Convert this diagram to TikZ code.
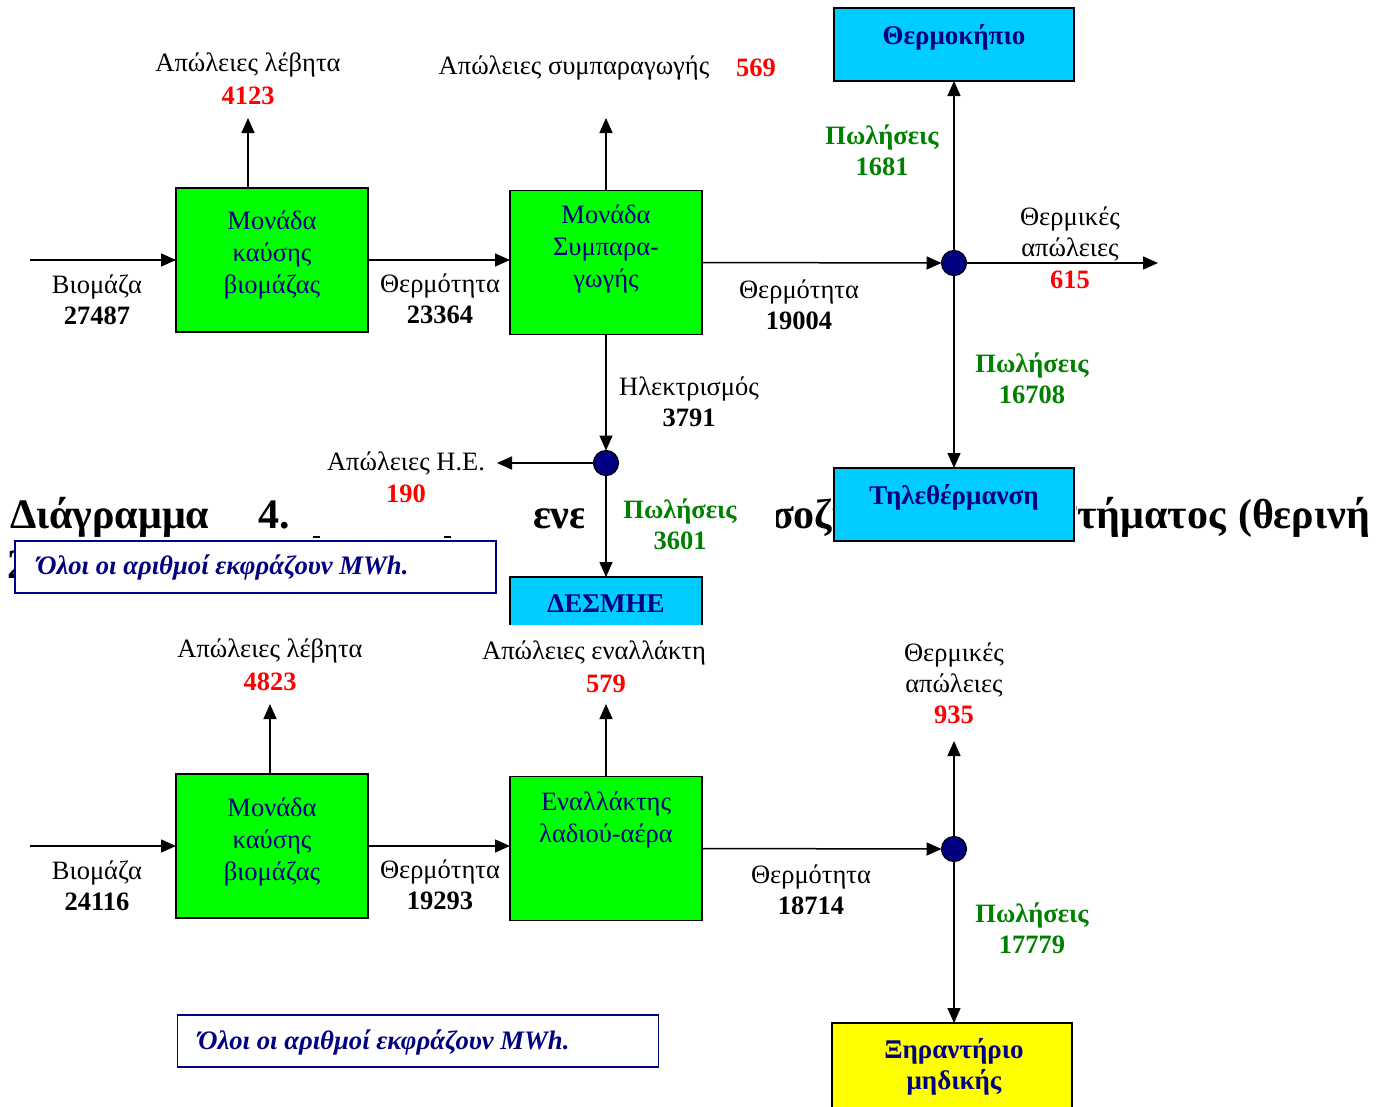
\documentclass[tikz,border=0pt]{standalone}
\usepackage{fontspec}
\setmainfont{Liberation Serif}
\usetikzlibrary{arrows.meta}
\definecolor{boxgreen}{HTML}{00FF00}
\definecolor{boxcyan}{HTML}{00CCFF}
\definecolor{boxyellow}{HTML}{FFFF00}
\definecolor{navy}{HTML}{000080}
\definecolor{salesgreen}{HTML}{008000}
\definecolor{lossred}{HTML}{FF0000}
\begin{document}
\begin{tikzpicture}[x=1pt,y=-1pt,
 every node/.style={inner sep=0pt, outer sep=0pt},
 unit/.style={draw=black, line width=1.5pt, fill=boxgreen, minimum width=192pt, minimum height=144pt},
 unittext/.style={font=\fontsize{26.5}{32}\selectfont, text=navy, align=center},
 dest/.style={draw=black, line width=1.5pt, fill=boxcyan, minimum width=240pt, minimum height=73pt},
 desttext/.style={font=\fontsize{27}{31}\selectfont\bfseries, text=navy, align=center},
 lbl/.style={font=\fontsize{26.5}{31}\selectfont, align=center},
 loss/.style={font=\fontsize{26.5}{31}\selectfont\bfseries, text=lossred},
 sales/.style={font=\fontsize{26.5}{31}\selectfont\bfseries, text=salesgreen, align=center},
 flow/.style={line width=1.5pt, -{Triangle[length=15pt,width=13pt]}},
 junction/.style={circle, draw=black, fill=navy, line width=1.2pt, minimum size=25pt},
 note/.style={draw=navy, line width=1.5pt, fill=white, minimum width=481pt, minimum height=52pt},
 notetext/.style={font=\fontsize{26.7}{30}\selectfont\bfseries\itshape, text=navy},
 head/.style={font=\fontsize{42}{50}\selectfont\bfseries}
]
\useasboundingbox[fill=white] (0,0) rectangle (1387,1106);

% ---- heading fragments (partly hidden) ----
\node[head, anchor=base west] (hd1) at (10,528) {Διάγραμμα};
\node[head, anchor=base west] (hd2) at (258,528) {4.};
\begin{scope}
 \clip (520,480) rectangle (583,550);
 \node[head, anchor=base west] (hd3) at (533,528) {ενε};
\end{scope}
\begin{scope}
 \clip (776,480) rectangle (834,550);
 \node[head, anchor=base west] (hd4) at (771,528) {σοζύ};
\end{scope}
\begin{scope}
 \clip (1076,480) rectangle (1387,550);
 \node[head, anchor=base east] (hd5) at (1370,528) {στήματος\hspace{12pt}(θερινή};
\end{scope}
\node[head, anchor=base west] (hd6) at (7,578) {2};
\draw[line width=1.2pt] (313,537) -- (320,537);
\draw[line width=1.2pt] (444,537) -- (451,537);

% ---- top diagram ----
\node[unit] (b1) at (272,260) {};
\node[unittext] (b1t) at (272,255) {Μονάδα\\καύσης\\βιομάζας};
\node[unit] (b2) at (606,262.5) {};
\node[unittext] (b2t) at (606,249) {Μονάδα\\Συμπαρα-\\γωγής};

\coordinate (in1) at (30,260);
\draw[flow] (in1) -- (b1.west);
\draw[flow] (b1.east) -- (b1.east -| b2.west);
\coordinate (l1) at (248,118);
\draw[flow] (l1 |- b1.north) -- (l1);
\coordinate (l2) at (606,118);
\draw[flow] (b2.north) -- (l2);

\node[junction] (j1) at (954,263) {};
\draw[flow] (b2.east) -- (j1.west);
\node[dest] (gh) at (954,44.5) {};
\node[desttext] (ght) at (954,37) {Θερμοκήπιο};
\draw[flow] (j1.north) -- (gh.south);
\coordinate (tl) at (1158,263);
\draw[flow] (j1.east) -- (tl);
\node[dest] (dh) at (954,504.5) {};
\node[desttext] (dht) at (954,497) {Τηλεθέρμανση};
\draw[flow] (j1.south) -- (dh.north);

\node[junction] (j2) at (606,463) {};
\draw[flow] (b2.south) -- (j2.north);
\coordinate (el) at (497,463);
\draw[flow] (j2.west) -- (el);
\node[fill=boxcyan, minimum width=192pt, minimum height=48pt] (dm) at (606,601) {};
\draw[line width=1.5pt] (dm.south west) -- (dm.north west) -- (dm.north east) -- (dm.south east);
\node[desttext] (dmt) at (606,604) {ΔΕΣΜΗΕ};
\draw[flow] (j2.south) -- (dm.north);

\node[lbl] (lb1) at (97,300) {Βιομάζα\\\textbf{27487}};
\node[lbl] (lb2) at (440,299) {Θερμότητα\\\textbf{23364}};
\node[lbl] (lb3) at (248,65) {Απώλειες λέβητα};
\node[loss] (lb3n) at (248,96) {4123};
\node[lbl] (lb4) at (574,68) {Απώλειες συμπαραγωγής};
\node[loss] (lb4n) at (756,68) {569};
\node[lbl] (lb5) at (799,305) {Θερμότητα\\\textbf{19004}};
\node[sales] (lb6) at (882,150) {Πωλήσεις\\1681};
\node[lbl] (lb7) at (1070,234) {Θερμικές\\απώλειες};
\node[loss] (lb7n) at (1070,280) {615};
\node[sales] (lb8) at (1032,378) {Πωλήσεις\\16708};
\node[lbl] (lb9) at (689,402) {Ηλεκτρισμός\\\textbf{3791}};
\node[lbl] (lb10) at (406,463) {Απώλειες Η.Ε.};
\node[loss] (lb10n) at (406,494) {190};
\node[sales] (lb11) at (680,524) {Πωλήσεις\\3601};

\node[note] (n1) at (255.5,567) {};
\node[notetext, anchor=west] (n1t) at (37,567) {Όλοι οι αριθμοί εκφράζουν MWh.};

% ---- bottom diagram ----
\node[unit] (b3) at (272,846) {};
\node[unittext] (b3t) at (272,841.5) {Μονάδα\\καύσης\\βιομάζας};
\node[unit] (b4) at (606,848.5) {};
\node[unittext] (b4t) at (606,819.5) {Εναλλάκτης\\λαδιού-αέρα};

\coordinate (in2) at (30,846);
\draw[flow] (in2) -- (b3.west);
\draw[flow] (b3.east) -- (b3.east -| b4.west);
\coordinate (l3) at (270,704);
\draw[flow] (l3 |- b3.north) -- (l3);
\coordinate (l4) at (606,704);
\draw[flow] (b4.north) -- (l4);

\node[junction] (j3) at (954,849) {};
\draw[flow] (b4.east) -- (j3.west);
\coordinate (l5) at (954,741);
\draw[flow] (j3.north) -- (l5);
\node[draw=black, line width=1.5pt, fill=boxyellow, minimum width=240pt, minimum height=88pt] (xh) at (952,1067) {};
\node[desttext] (xht) at (954,1066.5) {Ξηραντήριο\\μηδικής};
\draw[flow] (j3.south) -- (j3 |- xh.north);

\node[lbl] (lb12) at (97,886) {Βιομάζα\\\textbf{24116}};
\node[lbl] (lb13) at (440,885) {Θερμότητα\\\textbf{19293}};
\node[lbl] (lb14) at (270,651) {Απώλειες λέβητα};
\node[loss] (lb14n) at (270,682) {4823};
\node[lbl] (lb15) at (594,653) {Απώλειες εναλλάκτη};
\node[loss] (lb15n) at (606,684) {579};
\node[lbl] (lb16) at (811,890) {Θερμότητα\\\textbf{18714}};
\node[lbl] (lb17) at (954,669.5) {Θερμικές\\απώλειες};
\node[loss] (lb17n) at (954,715) {935};
\node[sales] (lb18) at (1032,928) {Πωλήσεις\\17779};

\node[note] (n2) at (418,1041) {};
\node[notetext, anchor=west] (n2t) at (198,1042) {Όλοι οι αριθμοί εκφράζουν MWh.};
\end{tikzpicture}
\end{document}
